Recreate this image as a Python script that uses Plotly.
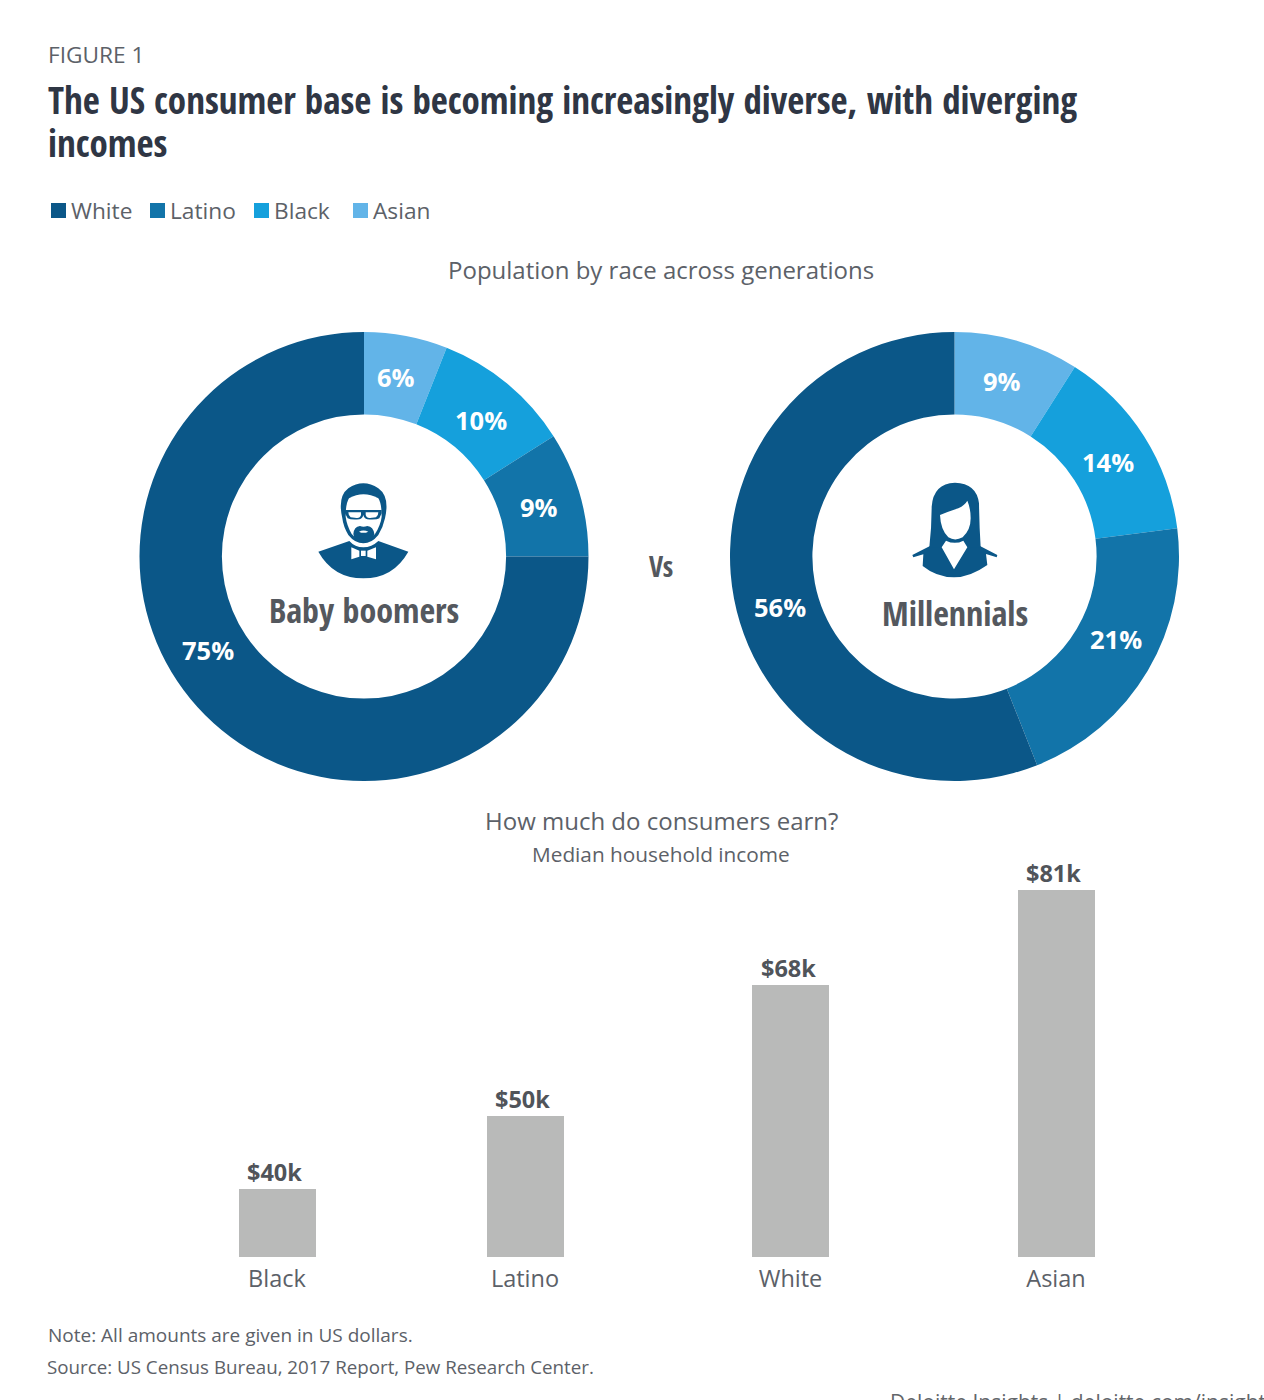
import re
import plotly.graph_objects as go

# Population shares, clockwise from 12 o'clock
race_labels = ["Asian", "Black", "Latino", "White"]
boomer_shares = [6, 10, 9, 75]
millennial_shares = [9, 14, 21, 56]

# Median household income, $k
income_groups = ["Black", "Latino", "White", "Asian"]
income_values = [40, 50, 68, 81]

legend_order = ["White", "Latino", "Black", "Asian"]

W, H = 1264, 1400
SANS = "Open Sans"
NARROW = "Open Sans Condensed"
GREY = "#5c6168"
INK = "#2f3644"
race_colors = {"White": "#0b5788", "Latino": "#1274a9", "Black": "#15a0dc", "Asian": "#62b4e8"}
slice_colors = [race_colors[r] for r in race_labels]


def px(x):
    return x / W


def py(y):
    return 1 - y / H


def pie_domain(cx, cy, r):
    return dict(x=[px(cx - r), px(cx + r)], y=[py(cy + r), py(cy - r)])


fig = go.Figure()

PIE_R = 224.5
for name, shares, cx in [("Baby boomers", boomer_shares, 364), ("Millennials", millennial_shares, 954.5)]:
    fig.add_trace(go.Pie(
        name=name, labels=race_labels, values=shares, sort=False, direction="clockwise", rotation=0,
        hole=0.633, textinfo="none", hoverinfo="label+percent", showlegend=False,
        marker=dict(colors=slice_colors, line=dict(width=0)),
        domain=pie_domain(cx, 556.5, PIE_R),
    ))

# Bars sit on a truncated value axis; group centres are unevenly spaced
bar_centres = [277, 525, 790.5, 1056]
fig.add_trace(go.Bar(
    x=bar_centres, y=income_values, width=77, marker=dict(color="#b9bab9", line=dict(width=0)),
    hovertext=income_groups, hoverinfo="text+y", showlegend=False,
))

BASE_Y, TOP_Y = 1257, 860
PX_PER_K = 7.29
AXIS_MIN = 30.7
fig.update_layout(
    xaxis=dict(range=[0, W], domain=[0, 1], tickmode="array", tickvals=bar_centres, ticktext=income_groups,
               showgrid=False, zeroline=False, showline=False, ticks="", ticklabelstandoff=5,
               tickfont=dict(family=SANS, size=23.5, color=GREY)),
    yaxis=dict(range=[AXIS_MIN, AXIS_MIN + (BASE_Y - TOP_Y) / PX_PER_K], domain=[py(BASE_Y), py(TOP_Y)],
               visible=False),
)


def text(s, x, y, size, color=GREY, family=SANS, anchor="center", bold=False):
    fig.add_annotation(
        text=f"<b>{s}</b>" if bold else s, x=px(x), y=py(y), xref="paper", yref="paper",
        xanchor=anchor, yanchor="middle", showarrow=False, xshift=-2 if anchor == "left" else 0,
        font=dict(family=family, size=size, color=color),
    )


# Header
text("FIGURE 1", 48, 55, 22.7, anchor="left")
text("The US consumer base is becoming increasingly diverse, with diverging", 48, 100, 37, INK, NARROW, "left", True)
text("incomes", 48, 143, 37, INK, NARROW, "left", True)

# Colour key
key_x = [51, 150, 254, 353]
for race, x in zip(legend_order, key_x):
    fig.add_shape(type="rect", xref="paper", yref="paper", x0=px(x), x1=px(x + 15), y0=py(218), y1=py(203),
                  fillcolor=race_colors[race], line_width=0)
    text(race, x + 20, 210, 22.7, anchor="left")

# Section headings
text("Population by race across generations", 661, 269, 24)
text("How much do consumers earn?", 661, 820, 24)
text("Median household income", 661, 854, 20.8)

# Ring labels
boomer_label_xy = [(396, 377), (481, 420), (539, 507), (208, 650)]
millennial_label_xy = [(1002, 381), (1108, 462), (1116, 639), (780, 607)]
for shares, spots in [(boomer_shares, boomer_label_xy), (millennial_shares, millennial_label_xy)]:
    for v, (x, y) in zip(shares, spots):
        text(f"{v}%", x, y, 25.5, "#ffffff", bold=True)

# Ring centres
text("Baby boomers", 364, 610, 34, "#54585e", NARROW, bold=True)
text("Millennials", 955, 613, 34, "#54585e", NARROW, bold=True)
text("Vs", 661, 566, 28, "#54585e", NARROW, bold=True)

# Bar value labels
for x, v in zip(bar_centres, income_values):
    fig.add_annotation(text=f"<b>${v}k</b>", x=x, y=v, xref="x", yref="y", yanchor="bottom", xshift=-2.5, yshift=-1,
                       showarrow=False, font=dict(family=SANS, size=23.5, color="#50545a"))

# Footer
text("Note: All amounts are given in US dollars.", 48, 1335, 19, anchor="left")
text("Source: US Census Bureau, 2017 Report, Pew Research Center.", 47, 1366, 18.75, anchor="left")
text("Deloitte Insights | deloitte.com/insights", 890, 1402, 21, "#63666a", SANS, "left")


# Icon outlines are authored on a 3x grid and placed on the page through an origin
def icon(path, ox, oy, fill):
    def repl(match):
        x, y = match.group(0).split(",")
        return f"{px(ox + float(x) / 3):.5f},{py(oy + float(y) / 3):.5f}"
    d = re.sub(r"-?\d+\.?\d*,-?\d+\.?\d*", repl, path)
    fig.add_shape(type="path", path=d, xref="paper", yref="paper", fillcolor=fill, line_width=0)


DARK = race_colors["White"]
man = [
    ("M115,275 L208,243 Q225,262 250,262 Q275,262 295,243 L385,275 Q340,355 250,355 Q160,355 115,275 Z", DARK),
    ("M214,262 L238,272 L238,290 L214,298 Z", "#fff"),
    ("M243,272 L257,272 L257,288 L243,288 Z", "#fff"),
    ("M262,272 L288,262 L288,298 L262,290 Z", "#fff"),
    ("M187,175 Q172,110 205,85 Q250,55 295,85 Q330,110 315,175 Q310,200 295,225 Q275,250 250,250 Q225,250 205,225 Q190,200 187,175 Z", DARK),
    ("M197,170 Q197,130 207,115 Q250,90 295,115 Q305,130 305,170 Q302,195 285,222 Q270,240 250,240 Q230,240 215,222 Q200,195 197,170 Z", "#fff"),
    ("M220,222 Q222,200 240,198 Q250,203 262,198 Q280,200 283,222 Q280,245 250,248 Q222,245 220,222 Z", DARK),
    ("M237,215 Q250,208 265,215 Q250,222 237,215 Z", "#fff"),
    ("M195,150 L305,150 L305,160 L298,175 Q290,180 262,178 Q252,175 250,165 Q248,175 238,178 Q212,180 203,175 L195,160 Z", DARK),
    ("M205,157 L243,157 L243,165 Q240,175 230,174 L212,172 Q205,168 205,157 Z", "#fff"),
    ("M257,157 L295,157 Q295,168 288,172 L270,174 Q260,175 257,165 Z", "#fff"),
]
woman = [
    ("M97,285 L150,258 L300,258 L352,285 L350,292 L318,282 L322,315 Q270,352 222,352 Q170,352 128,318 L130,283 L100,292 Z", DARK),
    ("M148,262 Q155,200 155,140 Q160,70 225,68 Q290,70 297,130 Q298,200 302,262 Z", DARK),
    ("M180,165 Q205,155 235,145 Q255,135 262,122 Q272,145 272,175 Q272,210 248,232 Q225,245 205,232 Q182,210 180,165 Z", "#fff"),
    ("M198,242 Q225,255 250,242 L262,262 L222,328 L185,262 Z", "#fff"),
]
for d, fill in man:
    icon(d, 280, 460, fill)
for d, fill in woman:
    icon(d, 880, 460, fill)

fig.update_layout(
    width=W, height=H, margin=dict(l=0, r=0, t=0, b=0), paper_bgcolor="#ffffff", plot_bgcolor="rgba(0,0,0,0)",
    showlegend=False, bargap=0,
)

fig.write_html("out.html")
